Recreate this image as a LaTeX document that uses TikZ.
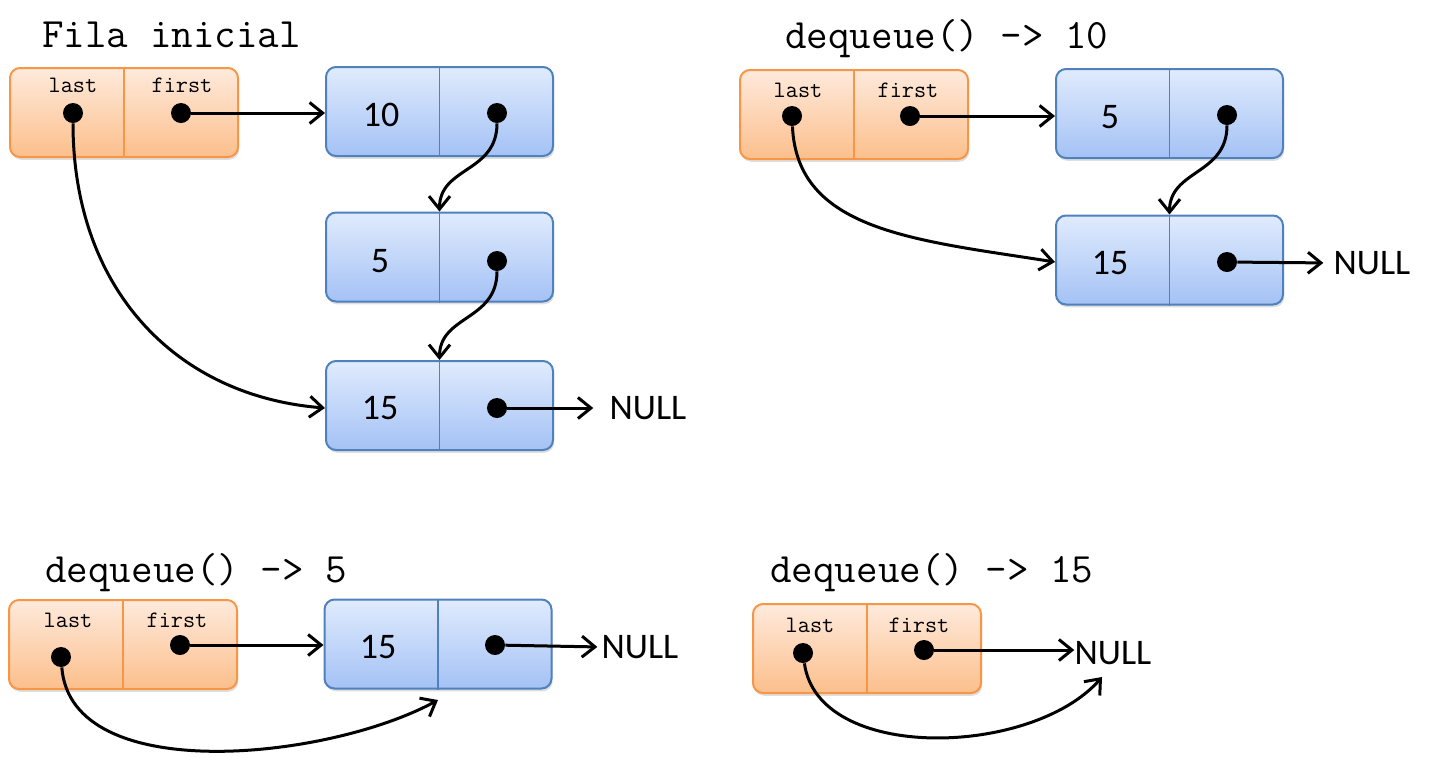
\documentclass[tikz,border=0pt]{standalone}
\usepackage{fontspec}
\newfontfamily\calibri{Carlito}
\usetikzlibrary{arrows.meta,shadows}

\definecolor{orangeline}{HTML}{F79646}
\definecolor{orangetop}{HTML}{FEEADC}
\definecolor{orangebot}{HTML}{FCBF8C}
\definecolor{blueline}{HTML}{4F81BD}
\definecolor{bluetop}{HTML}{E0EBFD}
\definecolor{bluebot}{HTML}{A4C2F5}

\begin{document}
\begin{tikzpicture}[x=0.5pt, y=-0.5pt,
  title/.style = {font=\ttfamily\fontsize{20.9}{22}\selectfont, inner sep=0pt, anchor=base west},
  field/.style = {font=\ttfamily\fontsize{11.8}{13}\selectfont, inner sep=0pt, anchor=base},
  val/.style = {font=\calibri\fontsize{18}{20}\selectfont, inner sep=0pt},
  headbox/.style = {rectangle, rounded corners=5pt, draw=orangeline, line width=1pt,
    top color=orangetop, bottom color=orangebot,
    minimum width=114pt, minimum height=44.5pt,
    drop shadow={shadow xshift=0.6pt, shadow yshift=-1.4pt, opacity=0.25}},
  cellbox/.style = {rectangle, rounded corners=5pt, draw=blueline, line width=1pt,
    top color=bluetop, bottom color=bluebot,
    minimum width=113.5pt, minimum height=44.5pt,
    drop shadow={shadow xshift=0.6pt, shadow yshift=-1.4pt, opacity=0.25}},
  dot/.style = {circle, fill=black, inner sep=0pt, minimum size=10pt},
  ptr/.style = {line width=1.5pt, -{Straight Barb[length=6.5pt,width=10.5pt]}}]
\useasboundingbox (0,0) rectangle (1436,757);

% Fila inicial
\node[title] (t1) at (42,47) {Fila inicial};
\node[headbox] (q1) at (124,112.5) {};
\draw[orangeline, line width=0.8pt] (q1.north) -- (q1.south);
\node[field] (last1) at (73,92) {last};
\node[field] (first1) at (182,92) {first};
\node[dot] (l1) at (73,113) {};
\node[dot] (f1) at (181,113) {};
\node[cellbox] (a10) at (439.5,111.5) {};
\draw[blueline, line width=0.8pt] (a10.north) -- (a10.south);
\node[val] (v10) at (381,115) {10};
\node[dot] (d10) at (497,113) {};
\node[cellbox] (a5) at (439.5,257) {};
\draw[blueline, line width=0.8pt] (a5.north) -- (a5.south);
\node[val] (v5) at (380,261) {5};
\node[dot] (d5) at (497,261) {};
\node[cellbox] (a15) at (439.5,405.5) {};
\draw[blueline, line width=0.8pt] (a15.north) -- (a15.south);
\node[val] (v15) at (380,408) {15};
\node[dot] (d15) at (497,408) {};
\node[val] (null1) at (648,408) {NULL};
\draw[ptr] (f1) -- (f1 -| a10.west);
\draw[ptr] (d10) .. controls +(0,60) and +(0,-45) .. (a5.north);
\draw[ptr] (d5) .. controls +(0,60) and +(0,-45) .. (a15.north);
\draw[ptr] (l1) .. controls +(0,175) and +(-150,-12) .. (a15.west |- d15);
\draw[ptr, shorten >=8pt] (d15) -- (null1.west);

% dequeue() -> 10
\node[title] (t2) at (785,48) {dequeue() -> 10};
\node[headbox] (q2) at (854,114.5) {};
\draw[orangeline, line width=0.8pt] (q2.north) -- (q2.south);
\node[field] (last2) at (798,97) {last};
\node[field] (first2) at (908,97) {first};
\node[dot] (l2) at (792,116) {};
\node[dot] (f2) at (910,116) {};
\node[cellbox] (b5) at (1169.5,113.5) {};
\draw[blueline, line width=0.8pt] (b5.north) -- (b5.south);
\node[val] (w5) at (1110,117) {5};
\node[dot] (e5) at (1227,115) {};
\node[cellbox] (b15) at (1169.5,260) {};
\draw[blueline, line width=0.8pt] (b15.north) -- (b15.south);
\node[val] (w15) at (1110,263) {15};
\node[dot] (e15) at (1227,262) {};
\node[val] (null2) at (1372,263) {NULL};
\draw[ptr] (f2) -- (f2 -| b5.west);
\draw[ptr] (e5) .. controls +(0,60) and +(0,-45) .. (b15.north);
\draw[ptr] (l2) .. controls +(5,115) and +(-140,-22) .. (b15.west |- e15);
\draw[ptr, shorten >=5pt] (e15) -- (null2.west);

% dequeue() -> 5
\node[title] (t3) at (45,582) {dequeue() -> 5};
\node[headbox] (q3) at (123,644.5) {};
\draw[orangeline, line width=0.8pt] (q3.north) -- (q3.south);
\node[field] (last3) at (68,627) {last};
\node[field] (first3) at (177,627) {first};
\node[dot] (l3) at (61,657) {};
\node[dot] (f3) at (180,645) {};
\node[cellbox] (c15) at (438,644) {};
\draw[blueline, line width=0.8pt] (c15.north) -- (c15.south);
\node[val] (x15) at (378,647) {15};
\node[dot] (g15) at (495,645) {};
\node[val] (null3) at (640,647) {NULL};
\coordinate (end3) at (438,700);
\draw[ptr] (f3) -- (f3 -| c15.west);
\draw[ptr, shorten >=2pt] (g15) -- (null3.west);
\draw[ptr] (l3) .. controls +(10,130) and +(-110,60) .. (end3);

% dequeue() -> 15
\node[title] (t4) at (770,582) {dequeue() -> 15};
\node[headbox] (q4) at (867,648.5) {};
\draw[orangeline, line width=0.8pt] (q4.north) -- (q4.south);
\node[field] (last4) at (810,632) {last};
\node[field] (first4) at (919,632) {first};
\node[dot] (l4) at (803,653) {};
\node[dot] (f4) at (924,650) {};
\node[val] (null4) at (1113,653) {NULL};
\coordinate (end4) at (1102,677);
\draw[ptr] (f4) -- (f4 -| null4.west);
\draw[ptr] (l4) .. controls +(15,110) and +(-70,80) .. (end4);
\end{tikzpicture}
\end{document}
